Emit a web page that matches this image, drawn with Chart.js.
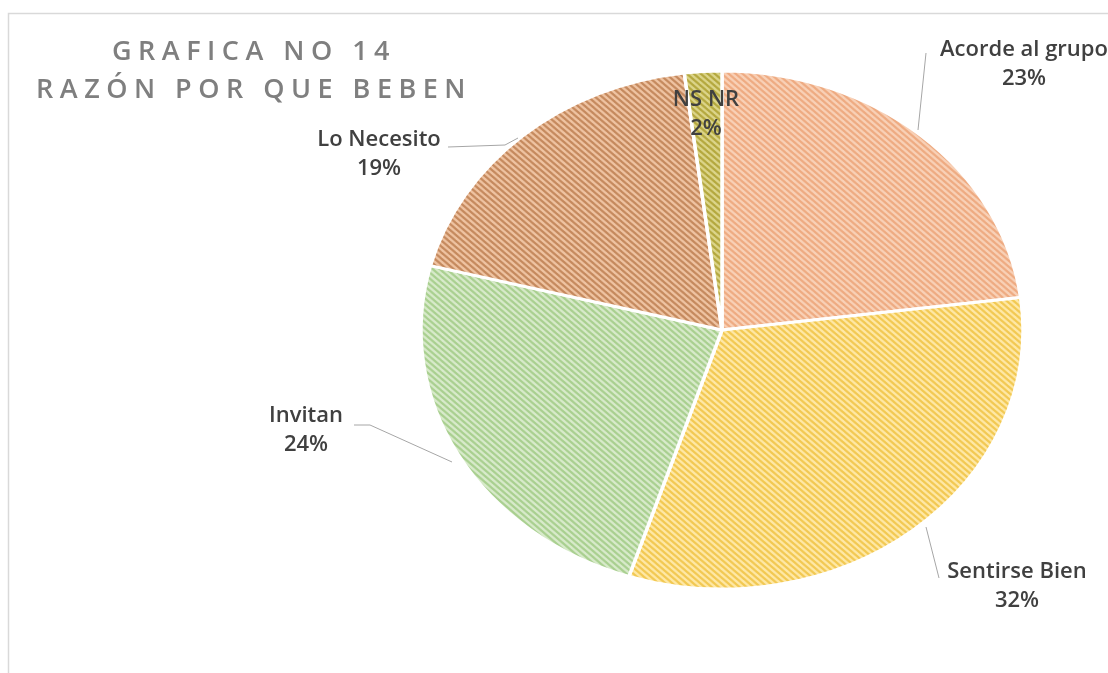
<!DOCTYPE html>
<html>
<head>
<meta charset="utf-8">
<script src="https://cdn.jsdelivr.net/npm/chart.js@4/dist/chart.umd.min.js"></script>
<style>
  html, body { margin: 0; padding: 0; background: #fff; }
  canvas { display: block; }
</style>
</head>
<body>
<canvas id="pie" width="1108" height="673"></canvas>
<script>
// ── Data ──────────────────────────────────────────────────────────────────────
const categories = ["Acorde al grupo", "Sentirse Bien", "Invitan", "Lo Necesito", "NS NR"];
const values     = [23, 32, 24, 19, 2];
const titleLines = ["GRAFICA NO 14", "RAZÓN POR QUE BEBEN"];

// ── Slice fills: base colour + diagonal hatch colour ─────────────────────────
const fillBase  = ["#f9d2b8", "#ffe9a8", "#d9ebcc", "#f0c5a4", "#ddd68c"];
const fillHatch = ["#eeaa80", "#f2c850", "#a8cf8e", "#c4885c", "#b3a73c"];

// label anchor points and leader lines (canvas px)
const labelPos = [
    { x: 1024, y: 50,  lead: [[926, 53], [918, 130]] },
    { x: 1017, y: 572, lead: [[939, 578], [926, 527]] },
    { x: 306,  y: 416, lead: [[354, 425], [370, 425], [452, 462]] },
    { x: 379,  y: 140, lead: [[448, 147], [505, 145], [518, 138]] },
    { x: 706,  y: 100, lead: null },
];

const RX = 301, RY = 259;   // ellipse radii

function hatch(base, line) {
    const s = 6;
    const c = document.createElement("canvas");
    c.width = s; c.height = s;
    const g = c.getContext("2d");
    g.fillStyle = base;
    g.fillRect(0, 0, s, s);
    g.strokeStyle = line;
    g.lineWidth = 2;
    g.beginPath();
    // "\" stripes, wrapped so the tile repeats seamlessly
    g.moveTo(-1, -1); g.lineTo(s + 1, s + 1);
    g.moveTo(-1, s - 1); g.lineTo(1, s + 1);
    g.moveTo(s - 1, -1); g.lineTo(s + 1, 1);
    g.stroke();
    return g.createPattern(c, "repeat");
}

const ctx0 = document.getElementById("pie").getContext("2d");
const patterns = fillBase.map((b, i) => hatch(b, fillHatch[i]));

// ── Stretch the round pie into an ellipse (datasets only) ────────────────────
const ellipse = {
    id: "ellipse",
    beforeDatasetsDraw(chart) {
        const arc = chart.getDatasetMeta(0).data[0];
        const c = chart.ctx;
        c.save();
        c.translate(arc.x, arc.y);
        c.scale(RX / RY, 1);
        c.translate(-arc.x, -arc.y);
    },
    afterDatasetsDraw(chart) {
        chart.ctx.restore();
    },
};

// ── Frame, title and data labels ─────────────────────────────────────────────
const decor = {
    id: "decor",
    beforeDraw(chart) {
        const c = chart.ctx;
        c.save();
        c.strokeStyle = "#d9d9d9";
        c.lineWidth = 1.5;
        c.strokeRect(8.5, 13.5, 1300, 800);
        c.restore();
    },
    afterDraw(chart) {
        const c = chart.ctx;
        const total = values.reduce((a, b) => a + b, 0);

        // title
        c.save();
        c.fillStyle = "#7f7f7f";
        c.font = "600 27px 'Open Sans'";
        c.textAlign = "center";
        c.textBaseline = "middle";
        c.letterSpacing = "6.5px";
        c.fillText(titleLines[0], 254, 52);
        c.fillText(titleLines[1], 254, 90);
        c.restore();

        // leader lines
        c.save();
        c.strokeStyle = "#a6a6a6";
        c.lineWidth = 1;
        labelPos.forEach(p => {
            if (!p.lead) return;
            c.beginPath();
            p.lead.forEach(([x, y], k) => k ? c.lineTo(x, y) : c.moveTo(x, y));
            c.stroke();
        });
        c.restore();

        // labels
        c.save();
        c.fillStyle = "#404040";
        c.font = "600 22px 'Open Sans'";
        c.textAlign = "center";
        c.textBaseline = "middle";
        categories.forEach((name, i) => {
            const p = labelPos[i];
            const pct = Math.round(values[i] / total * 100) + "%";
            c.fillText(name, p.x, p.y);
            c.fillText(pct, p.x, p.y + 29);
        });
        c.restore();
    },
};

new Chart(ctx0, {
    type: "pie",
    data: {
        labels: categories,
        datasets: [{
            data: values,
            backgroundColor: patterns,
            borderColor: "#ffffff",
            borderWidth: 3,
            radius: RY,
        }],
    },
    options: {
        responsive: false,
        animation: false,
        events: [],
        layout: { padding: { top: 71, bottom: 84, left: 463, right: 127 } },
        plugins: {
            legend:  { display: false },
            tooltip: { enabled: false },
            title:   { display: false },
        },
    },
    plugins: [ellipse, decor],
});
</script>
</body>
</html>
